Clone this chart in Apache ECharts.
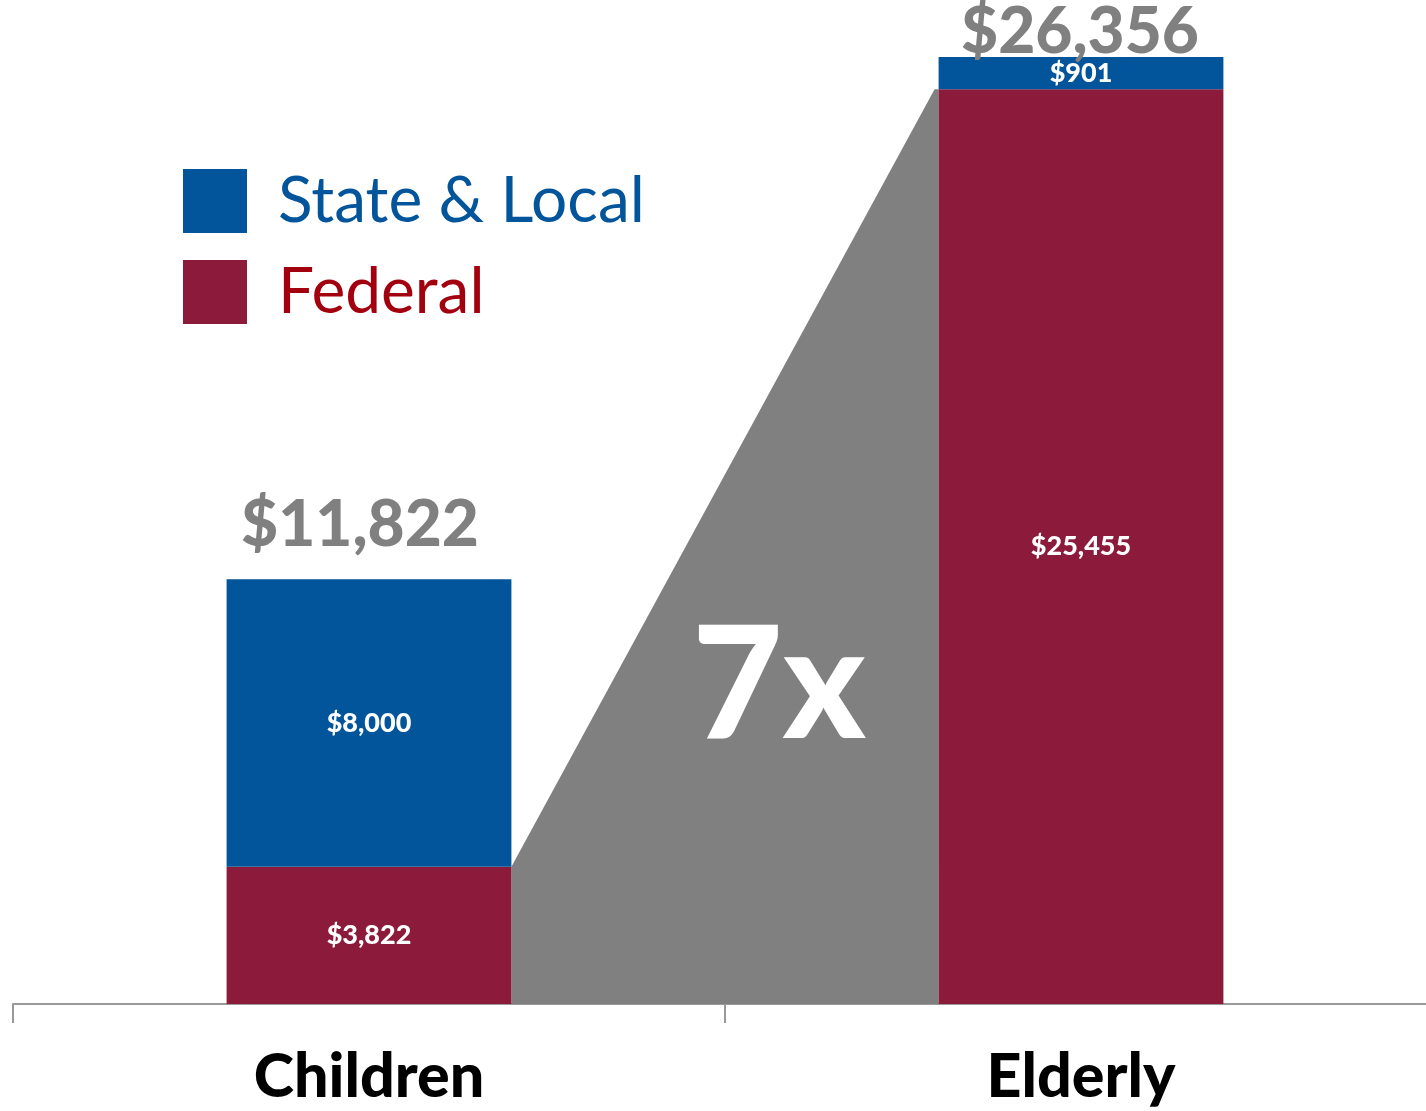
<!DOCTYPE html>
<html><head><meta charset="utf-8">
<script src="https://cdn.jsdelivr.net/npm/echarts@6/dist/echarts.min.js"></script>
<style>html,body{margin:0;padding:0;background:#fff}#c{width:1426px;height:1111px}</style>
</head><body><div id="c"></div>
<script>
const categories = ['Children', 'Elderly'];
const federal = [3822, 25455];
const stateLocal = [8000, 901];
const multipleLabel = '7x';

const totals = categories.map((c, i) => federal[i] + stateLocal[i]);
const fmt = v => '$' + v.toLocaleString('en-US');
const BLUE = '#02559A', MAROON = '#8B1A3B', GRAY = '#808080';
const FONT = 'Lato';
const totalOffsetsY = [-54, -25];
const totalOffsetsX = [-9, -1];

const chart = echarts.init(document.getElementById('c'));
chart.setOption({
  animation: false,
  grid: { left: 13, top: 57, width: 1424, height: 947, outerBoundsMode: 'none', containLabel: false },
  legend: {
    orient: 'vertical', left: 183, top: 169, itemWidth: 64, itemHeight: 64, itemGap: 27, padding: 0,
    icon: 'rect', selectedMode: false,
    textStyle: { fontFamily: FONT, fontWeight: 'normal', fontSize: 64, padding: [0, 0, 0, 26] },
    data: [
      { name: 'State & Local', textStyle: { color: '#02559A' } },
      { name: 'Federal', textStyle: { color: '#A3000F' } }
    ]
  },
  xAxis: {
    type: 'category', data: categories,
    axisLine: { lineStyle: { color: '#999', width: 2 } },
    axisTick: { show: true, alignWithLabel: false, interval: 0, length: 19, lineStyle: { color: '#999', width: 2 } },
    axisLabel: { color: '#000', fontFamily: FONT, fontWeight: 900, fontSize: 61, margin: 43 }
  },
  yAxis: { type: 'value', min: 0, max: Math.max(...totals), show: false, splitLine: { show: false } },
  series: [
    {
      name: 'Federal', type: 'bar', stack: 's', barWidth: '40%', data: federal,
      itemStyle: { color: MAROON },
      label: { show: true, position: 'inside', color: '#fff', fontFamily: FONT, fontWeight: 900, fontSize: 27, formatter: p => fmt(p.value) }
    },
    {
      name: 'State & Local', type: 'bar', stack: 's', barWidth: '40%', data: stateLocal,
      itemStyle: { color: BLUE },
      label: { show: true, position: 'inside', color: '#fff', fontFamily: FONT, fontWeight: 900, fontSize: 27, formatter: p => fmt(p.value) }
    },
    {
      type: 'custom', name: 'gap', z: 1, silent: true,
      data: [[0, 0]],
      renderItem: (params, api) => {
        const hw = api.size([1, 0])[0] * 0.2;
        const p0 = api.coord([0, federal[0]]);
        const p1 = api.coord([1, federal[1]]);
        const base = api.coord([0, 0])[1];
        const x0 = p0[0] + hw, x1 = p1[0] - hw;
        return {
          type: 'group',
          children: [
            { type: 'polygon', shape: { points: [[x0, p0[1]], [x1 - 4, p1[1]], [x1, p1[1]], [x1, base], [x0, base]] }, style: { fill: GRAY } },
            { type: 'text', style: { text: multipleLabel, x: (x0 + x1) / 2 + 54, y: 688, align: 'center', verticalAlign: 'middle', fill: '#fff', font: '900 156px ' + FONT } }
          ]
        };
      }
    },
    {
      type: 'custom', name: 'totals', z: 5, silent: true,
      data: totals.map((t, i) => [i, t]),
      renderItem: (params, api) => {
        const p = api.coord([api.value(0), api.value(1)]);
        const i = params.dataIndex;
        return { type: 'text', style: { text: fmt(api.value(1)), x: p[0] + totalOffsetsX[i], y: p[1] + totalOffsetsY[i], align: 'center', verticalAlign: 'middle', fill: GRAY, font: '900 64px ' + FONT } };
      }
    }
  ]
});
</script></body></html>
